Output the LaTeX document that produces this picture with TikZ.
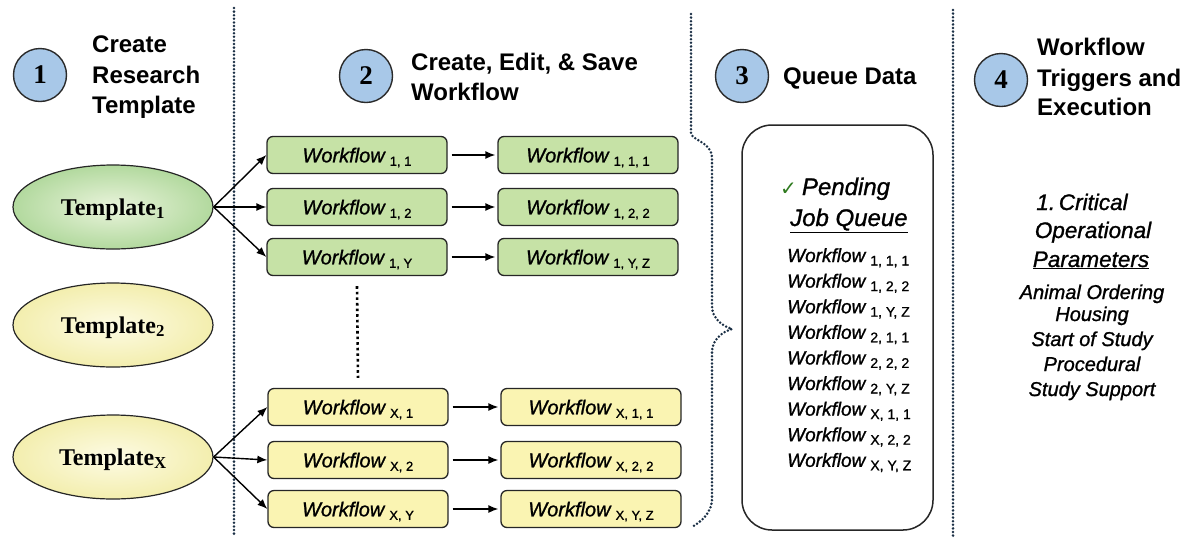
\documentclass[tikz,border=0pt]{standalone}
\usepackage{fontspec}
\setmainfont{Liberation Sans}
\newfontfamily\heavy[FakeBold=1.1, ItalicFeatures={FakeBold=1.1}]{Liberation Sans}
\newfontfamily\serifbold{Liberation Serif}
\newfontfamily\symfont{DejaVu Sans}
\usetikzlibrary{arrows.meta,shapes.geometric}

\definecolor{numblue}{HTML}{A8C8E8}
\definecolor{numedge}{HTML}{2A2A2A}
\definecolor{dotblue}{HTML}{1A2F45}
\definecolor{ellgreenin}{HTML}{EAF4DC}
\definecolor{ellgreenout}{HTML}{B2D99E}
\definecolor{ellyellowin}{HTML}{FDFBE4}
\definecolor{ellyellowout}{HTML}{F3EEAE}
\definecolor{boxgreen}{HTML}{C6E2A6}
\definecolor{boxyellow}{HTML}{FAF4B2}
\definecolor{checkgreen}{HTML}{2E7A1E}

\newcommand\fsz[1]{\fontsize{#1}{#1}\selectfont}
% Workflow name with its lowered index: gap, index size, index text
\newcommand\wflow[3]{\textit{Workflow}\hspace{#1}\raisebox{-3.5pt}{\fsz{#2}#3}}

\begin{document}
\begin{tikzpicture}[x=1pt,y=-1pt,
  stepnum/.style={circle, draw=numedge, line width=1.4pt, fill=numblue,
    minimum size=53pt, inner sep=0pt, font=\serifbold\bfseries\fsz{27}},
  title/.style={anchor=base west, inner sep=0pt, font=\bfseries\fsz{24}},
  tmpl/.style={ellipse, draw=black!85, line width=1.2pt, minimum width=200pt,
    minimum height=84pt, inner sep=0pt, font=\serifbold\bfseries\fsz{24},
    text height=16pt, text depth=0pt},
  tgreen/.style={tmpl, inner color=ellgreenin, outer color=ellgreenout},
  tyellow/.style={tmpl, inner color=ellyellowin, outer color=ellyellowout},
  wfbox/.style={rectangle, rounded corners=6pt, draw=black!85, line width=1.3pt,
    minimum width=180pt, minimum height=37pt, inner sep=0pt, font=\heavy\fsz{20},
    text height=14.5pt, text depth=0pt},
  wfgreen/.style={wfbox, fill=boxgreen},
  wfyellow/.style={wfbox, fill=boxyellow},
  link/.style={line width=1.4pt, -{Latex[length=10pt,width=8pt]}},
  sep/.style={draw=dotblue, line width=2.8pt, line cap=round, dash pattern=on 0pt off 3.6pt},
  vdots/.style={draw=black, line width=2.6pt, dash pattern=on 2.6pt off 3pt},
  qbox/.style={rectangle, draw=black!85, line width=1.5pt, rounded corners=30pt,
    fill=white, minimum width=191pt, minimum height=405pt, inner sep=0pt},
  qhead/.style={anchor=base west, inner sep=0pt, font=\heavy\itshape\fsz{24}},
  qitem/.style={anchor=base west, inner sep=0pt, font=\heavy\fsz{19}},
  phead/.style={anchor=base, inner sep=0pt, font=\heavy\itshape\fsz{22.5}},
  pitem/.style={anchor=base, inner sep=0pt, font=\heavy\itshape\fsz{20}}]

\useasboundingbox (0,0) rectangle (1193,539);
\fill[white] (0,0) rectangle (1193,539);

% column separators and the brace round the workflow list
\draw[sep] (234,8) -- (234,537);
\draw[sep] (953,10) -- (953,537);
\draw[sep] (691,14) -- (691,133)
  .. controls (691,140) and (712,142) .. (712,158) -- (712,306)
  .. controls (712,318) and (722,326) .. (732,329)
  .. controls (722,332) and (712,340) .. (712,352) -- (712,498)
  .. controls (712,514) and (700,522) .. (692,527);

% step numbers
\node[stepnum] (n1) at (40,75) {1};
\node[stepnum] (n2) at (366,76) {2};
\node[stepnum] (n3) at (742,76) {3};
\node[stepnum] (n4) at (1001,80) {4};

% step titles
\node[title] (t1a) at (92,52) {Create};
\node[title] (t1b) at (92,83) {Research};
\node[title] (t1c) at (92,113) {Template};
\node[title] (t2a) at (411,70) {Create, Edit, \& Save};
\node[title] (t2b) at (411,100) {Workflow};
\node[title] (t3a) at (783,84) {Queue Data};
\node[title] (t4a) at (1037,55) {Workflow};
\node[title] (t4b) at (1037,86) {Triggers and};
\node[title] (t4c) at (1037,115) {Execution};

% research templates
\node[tgreen] (T1) at (113,207) {Template\textsubscript{1}};
\node[tyellow] (T2) at (113,325) {Template\textsubscript{2}};
\node[tyellow] (TX) at (113,457) {Template\textsubscript{X}};

% workflows of template 1
\node[wfgreen] (w11) at (357,155) {\wflow{4pt}{13}{1, 1}};
\node[wfgreen] (w12) at (357,207) {\wflow{4pt}{13}{1, 2}};
\node[wfgreen] (w1Y) at (357,257) {\wflow{4pt}{13}{1, Y}};
\node[wfgreen] (w111) at (588,155) {\wflow{4pt}{13}{1, 1, 1}};
\node[wfgreen] (w122) at (588,207) {\wflow{4pt}{13}{1, 2, 2}};
\node[wfgreen] (w1YZ) at (588,257) {\wflow{4pt}{13}{1, Y, Z}};

% workflows of template X
\node[wfyellow] (wX1) at (358,407) {\wflow{4pt}{13}{X, 1}};
\node[wfyellow] (wX2) at (358,460) {\wflow{4pt}{13}{X, 2}};
\node[wfyellow] (wXY) at (358,509) {\wflow{4pt}{13}{X, Y}};
\node[wfyellow] (wX11) at (591,407) {\wflow{4pt}{13}{X, 1, 1}};
\node[wfyellow] (wX22) at (591,460) {\wflow{4pt}{13}{X, 2, 2}};
\node[wfyellow] (wXYZ) at (591,509) {\wflow{4pt}{13}{X, Y, Z}};

% template to workflow links
\foreach \w in {w11,w12,w1Y} \draw[link] (T1.east) -- (\w.west);
\foreach \w in {wX1,wX2,wXY} \draw[link] (TX.east) -- (\w.west);

% workflow to saved workflow links
\foreach \a/\b in {w11/w111,w12/w122,w1Y/w1YZ,wX1/wX11,wX2/wX22,wXY/wXYZ}
  \draw[link, shorten <=4pt, shorten >=2pt] (\a.east) -- (\b.west);

% omitted templates
\draw[vdots] ([yshift=-10pt]w1Y.south) -- ([yshift=10pt]wX1.north);

% pending job queue
\node[qbox] (queue) at (837.5,327.5) {};
\node[qhead] (qh1) at (780,195) {{\upshape\symfont\fsz{20}\textcolor{checkgreen}{✓}}\hspace{5pt}Pending};
\node[qhead] (qh2) at (790,226) {\underline{Job Queue}};
\foreach \s [count=\k from 0] in {{1, 1, 1},{1, 2, 2},{1, Y, Z},{2, 1, 1},{2, 2, 2},{2, Y, Z},{X, 1, 1},{X, 2, 2},{X, Y, Z}}
  \node[qitem] (q\k) at (787,262+25.6*\k) {\wflow{4pt}{14}{\s}};

% operational parameters
\node[phead] (p1) at (1082,210) {1.\,Critical};
\node[phead] (p2) at (1093,238) {Operational};
\node[phead] (p3) at (1091,267) {\underline{Parameters}};
\node[pitem] (p4) at (1092,299) {Animal Ordering};
\node[pitem] (p5) at (1092,321) {Housing};
\node[pitem] (p6) at (1092,346) {Start of Study};
\node[pitem] (p7) at (1092,371) {Procedural};
\node[pitem] (p8) at (1092,396) {Study Support};
\end{tikzpicture}
\end{document}
